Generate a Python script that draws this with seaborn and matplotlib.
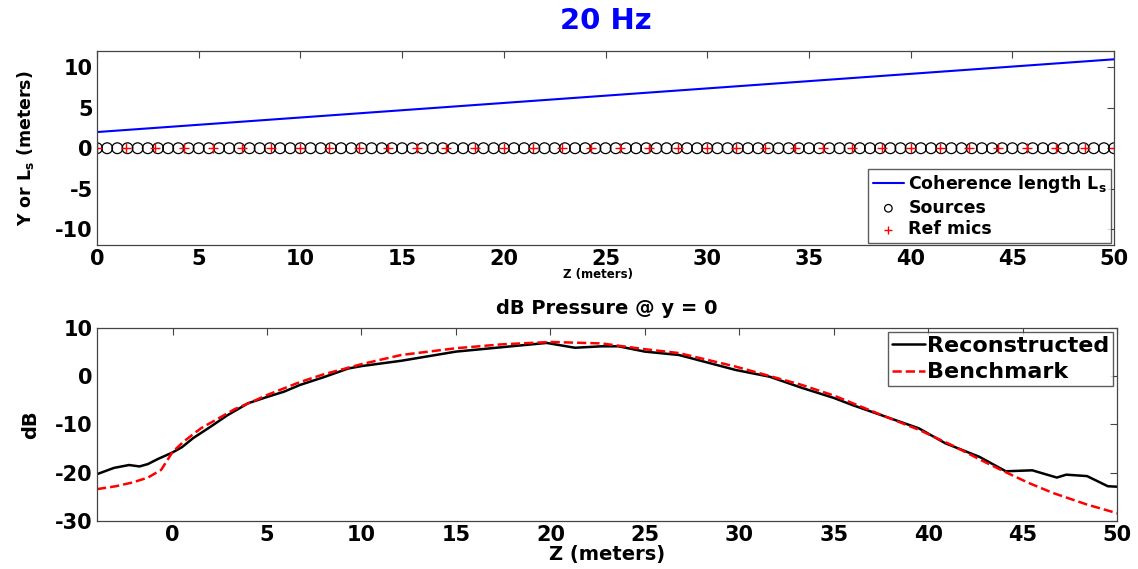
import matplotlib
matplotlib.use("Agg")
import matplotlib.pyplot as plt
import seaborn as sns

# ---------------- data ----------------
coh_z = [0.0, 50.0]
coh_L = [2.0, 11.0]

source_z = [0.0, 0.5, 1.0, 1.5, 2.0, 2.5, 3.0, 3.5, 4.0, 4.5, 5.0, 5.5, 6.0, 6.5, 7.0, 7.5,
            8.0, 8.5, 9.0, 9.5, 10.0, 10.5, 11.0, 11.5, 12.0, 12.5, 13.0, 13.5, 14.0, 14.5,
            15.0, 15.5, 16.0, 16.5, 17.0, 17.5, 18.0, 18.5, 19.0, 19.5, 20.0, 20.5, 21.0,
            21.5, 22.0, 22.5, 23.0, 23.5, 24.0, 24.5, 25.0, 25.5, 26.0, 26.5, 27.0, 27.5,
            28.0, 28.5, 29.0, 29.5, 30.0, 30.5, 31.0, 31.5, 32.0, 32.5, 33.0, 33.5, 34.0,
            34.5, 35.0, 35.5, 36.0, 36.5, 37.0, 37.5, 38.0, 38.5, 39.0, 39.5, 40.0, 40.5,
            41.0, 41.5, 42.0, 42.5, 43.0, 43.5, 44.0, 44.5, 45.0, 45.5, 46.0, 46.5, 47.0,
            47.5, 48.0, 48.5, 49.0, 49.5, 50.0]
source_y = [0.0] * len(source_z)

mic_z = [0.0, 1.43, 2.86, 4.29, 5.71, 7.14, 8.57, 10.0, 11.43, 12.86, 14.29, 15.71,
         17.14, 18.57, 20.0, 21.43, 22.86, 24.29, 25.71, 27.14, 28.57, 30.0, 31.43,
         32.86, 34.29, 35.71, 37.14, 38.57, 40.0, 41.43, 42.86, 44.29, 45.71, 47.14,
         48.57, 50.0]
mic_y = [0.0] * len(mic_z)

rec_z = [-4.0, -3.1, -2.3, -1.75, -1.3, -0.8, 0.0, 0.5, 1.1, 2.0, 2.9, 4.0, 5.0, 5.9,
         6.75, 8.0, 9.3, 10.0, 12.1, 15.0, 17.4, 19.8, 20.4, 21.3, 22.7, 23.6, 25.0,
         26.8, 29.8, 31.6, 33.3, 35.0, 36.0, 37.75, 39.5, 40.9, 42.7, 44.1, 45.5, 46.8,
         47.3, 48.4, 49.5, 50.0]
rec_db = [-20.3, -19.0, -18.4, -18.7, -18.2, -17.2, -15.8, -14.7, -12.8, -10.5, -8.1,
          -5.6, -4.3, -3.2, -1.8, -0.2, 1.6, 2.1, 3.2, 5.1, 6.0, 6.9, 6.5, 5.9, 6.2, 6.2,
          5.1, 4.4, 1.3, -0.1, -2.4, -4.5, -6.0, -8.4, -10.8, -13.9, -16.7, -19.7, -19.5,
          -21.0, -20.4, -20.7, -22.8, -22.9]

bm_z = [-4.0, -3.0, -2.1, -1.3, -0.6, 0.0, 0.6, 1.5, 2.4, 3.3, 4.2, 5.0, 6.75, 8.0,
        10.0, 12.1, 15.0, 17.4, 20.0, 22.7, 25.0, 26.8, 29.8, 33.3, 35.0, 36.0, 37.75,
        39.5, 41.3, 43.0, 44.1, 45.3, 46.6, 48.4, 50.0]
bm_db = [-23.4, -22.8, -22.0, -21.0, -19.4, -15.7, -13.5, -10.8, -8.8, -6.8, -5.3,
         -3.9, -1.2, 0.4, 2.5, 4.4, 5.8, 6.6, 7.1, 6.8, 5.6, 4.8, 2.0, -1.8, -4.0, -5.6,
         -8.4, -11.1, -14.4, -17.8, -19.9, -22.1, -24.2, -26.6, -28.4]

top_xticks = [0, 5, 10, 15, 20, 25, 30, 35, 40, 45, 50]
top_yticks = [-10, -5, 0, 5, 10]
bot_xticks = [0, 5, 10, 15, 20, 25, 30, 35, 40, 45, 50]
bot_yticks = [-30, -20, -10, 0, 10]

# ---------------- style ----------------
sns.set_style("white")
plt.rcParams['font.family'] = ['DejaVu Sans']
plt.rcParams['font.weight'] = 'bold'
plt.rcParams['axes.labelweight'] = 'bold'
plt.rcParams['mathtext.default'] = 'bf'
plt.rcParams['axes.unicode_minus'] = False
plt.rcParams['text.color'] = 'black'
plt.rcParams['axes.labelcolor'] = 'black'
plt.rcParams['xtick.color'] = '#444444'
plt.rcParams['ytick.color'] = '#444444'
plt.rcParams['xtick.labelcolor'] = 'black'
plt.rcParams['ytick.labelcolor'] = 'black'

fig = plt.figure(figsize=(11.38, 5.69), dpi=100)
ax1 = fig.add_axes([0.0852, 0.569, 0.8938, 0.341])
ax2 = fig.add_axes([0.0852, 0.0844, 0.8966, 0.3392])

# ---------------- top panel ----------------
sns.lineplot(x=coh_z, y=coh_L, ax=ax1, color='blue', linewidth=1.5,
             label='Coherence length L$_s$')
sns.scatterplot(x=source_z, y=source_y, ax=ax1, marker='o', s=60,
                facecolors='none', edgecolor='black', linewidth=0.9, label='Sources')
sns.scatterplot(x=mic_z, y=mic_y, ax=ax1, marker='+', s=55, color='red',
                linewidth=1.0, label='Ref mics')
ax1.set_xlim(0, 50)
ax1.set_ylim(-12, 12)
ax1.set_xticks(top_xticks)
ax1.set_yticks(top_yticks)
ax1.set_xlabel('Z (meters)', fontsize=8.5, fontweight='bold')
ax1.xaxis.set_label_coords(0.4926, -0.115)
ax1.set_ylabel('Y or L$_s$ (meters)', fontsize=12.5, fontweight='bold', labelpad=14)
ax1.set_title('20 Hz', color='blue', fontsize=21, fontweight='bold', pad=16)
leg1 = ax1.legend(loc='lower right', fontsize=12.5, frameon=True, fancybox=False,
                  edgecolor='#333333', borderpad=0.25, labelspacing=0.2,
                  handlelength=1.8, handletextpad=0.25, borderaxespad=0.15,
                  markerscale=0.7)
leg1.get_frame().set_linewidth(1.0)
for t in leg1.get_texts():
    t.set_fontweight('bold')

# ---------------- bottom panel ----------------
sns.lineplot(x=rec_z, y=rec_db, ax=ax2, color='black', linewidth=1.8,
             label='Reconstructed')
sns.lineplot(x=bm_z, y=bm_db, ax=ax2, color='red', linewidth=1.8,
             linestyle='--', label='Benchmark')
ax2.set_xlim(-4, 50)
ax2.set_ylim(-30, 10)
ax2.set_xticks(bot_xticks)
ax2.set_yticks(bot_yticks)
ax2.set_xlabel('Z (meters)', fontsize=14, fontweight='bold', labelpad=0)
ax2.set_ylabel('dB', fontsize=14, fontweight='bold', labelpad=11)
ax2.set_title('dB Pressure @ y = 0', fontsize=14, fontweight='bold', pad=10)
leg2 = ax2.legend(loc='upper right', fontsize=16, frameon=True, fancybox=False,
                  edgecolor='#333333', borderpad=0.15, labelspacing=0.3,
                  handlelength=1.5, handletextpad=0.1, borderaxespad=0.2)
leg2.get_frame().set_linewidth(1.0)
for t in leg2.get_texts():
    t.set_fontweight('bold')

for ax in (ax1, ax2):
    ax.tick_params(direction='in', length=5, width=0.8, top=True, right=True,
                   labelsize=15, pad=3)
    for lbl in ax.get_xticklabels() + ax.get_yticklabels():
        lbl.set_fontweight('bold')
    for sp in ax.spines.values():
        sp.set_color('#444444')
        sp.set_linewidth(0.9)

fig.savefig('out.png', dpi=100)
